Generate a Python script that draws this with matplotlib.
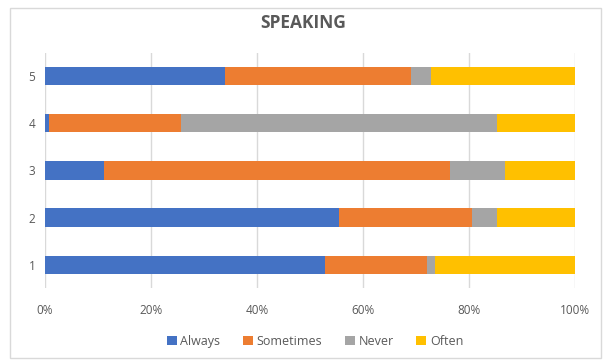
import matplotlib.pyplot as plt
from matplotlib.patches import Rectangle
from matplotlib.ticker import PercentFormatter

# --- Daten ---
categories = ["1", "2", "3", "4", "5"]
always = [52.8, 55.5, 11.1, 0.7, 34.0]
sometimes = [19.2, 25.1, 65.3, 25.0, 35.1]
never = [1.5, 4.7, 10.4, 59.6, 3.7]
often = [26.5, 14.7, 13.2, 14.7, 27.2]

series = [
    ("Always", always, "#4472C4"),
    ("Sometimes", sometimes, "#ED7D31"),
    ("Never", never, "#A5A5A5"),
    ("Often", often, "#FFC000"),
]

plt.rcParams['font.family'] = ['Open Sans', 'DejaVu Sans']

fig = plt.figure(figsize=(6.06, 3.60), dpi=100)
ax = fig.add_axes([0.0743, 0.199, 0.8746, 0.655])

# Rahmen um das ganze Diagramm
fig.patches.append(Rectangle((0.016, 0.006), 0.975, 0.972, transform=fig.transFigure,
                             fill=False, edgecolor="#D9D9D9", linewidth=1))

y = list(range(1, len(categories) + 1))
left = [0.0] * len(categories)
for name, vals, color in series:
    ax.barh(y, vals, left=left, height=0.39, color=color, label=name, zorder=3)
    left = [l + v for l, v in zip(left, vals)]

ax.set_xlim(0, 100)
ax.set_ylim(0.5, 5.5)
ax.set_xticks(range(0, 101, 20))
ax.xaxis.set_major_formatter(PercentFormatter(decimals=0))
ax.set_yticks(y)
ax.set_yticklabels(categories)
ax.grid(True, axis="x", color="#D9D9D9", linewidth=1, zorder=0)
for s in ax.spines.values():
    s.set_visible(False)
ax.tick_params(length=0, labelsize=8.5, labelcolor="#595959")
ax.tick_params(axis="x", pad=11)
ax.tick_params(axis="y", pad=7)

fig.text(0.5, 0.935, "SPEAKING", ha="center", va="center", fontsize=12.5,
         fontweight="bold", color="#595959")

fig.legend(loc="center", bbox_to_anchor=(0.52, 0.052), ncol=4, frameon=False,
           fontsize=9, labelcolor="#595959", handlelength=0.8, handleheight=0.8,
           handletextpad=0.3, columnspacing=1.8)

fig.savefig("out.png", dpi=100)
